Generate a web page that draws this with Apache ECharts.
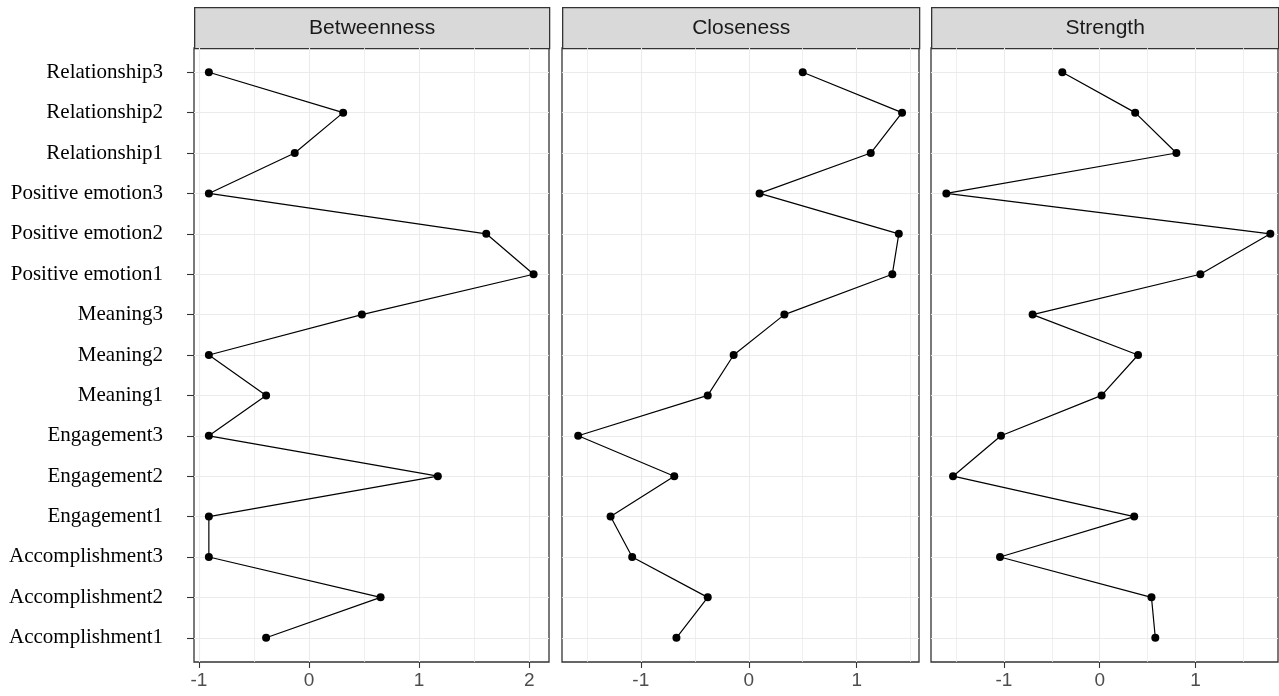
<!DOCTYPE html>
<html>
<head>
<meta charset="utf-8">
<script src="https://cdn.jsdelivr.net/npm/echarts@6/dist/echarts.min.js"></script>
<style>
  html, body { margin: 0; padding: 0; background: #fff; }
  #chart { width: 1279px; height: 696px; }
</style>
</head>
<body>
<div id="chart"></div>
<script>
// nodes, bottom to top
const nodeNames = [
  'Accomplishment1', 'Accomplishment2', 'Accomplishment3',
  'Engagement1', 'Engagement2', 'Engagement3',
  'Meaning1', 'Meaning2', 'Meaning3',
  'Positive emotion1', 'Positive emotion2', 'Positive emotion3',
  'Relationship1', 'Relationship2', 'Relationship3'
];
const betweenness = [-0.39, 0.65, -0.91, -0.91, 1.17, -0.91, -0.39, -0.91, 0.48, 2.04, 1.61, -0.91, -0.13, 0.31, -0.91];
const closeness = [-0.67, -0.38, -1.08, -1.28, -0.69, -1.58, -0.38, -0.14, 0.33, 1.33, 1.39, 0.10, 1.13, 1.42, 0.50];
const strength = [0.58, 0.54, -1.04, 0.36, -1.53, -1.03, 0.02, 0.40, -0.70, 1.05, 1.78, -1.60, 0.80, 0.37, -0.39];

const panelTitles = ['Betweenness', 'Closeness', 'Strength'];
const xTickLabels = [[-1, 0, 1, 2], [-1, 0, 1], [-1, 0, 1]];
const xMinorLines = [[-0.5, 0.5, 1.5], [-1.5, -0.5, 0.5, 1.5], [-1.5, -0.5, 0.5, 1.5]];

const chart = echarts.init(document.getElementById('chart'));

const panels = [
  { values: betweenness, min: -1.045, max: 2.18, left: 194, width: 355 },
  { values: closeness, min: -1.73, max: 1.577, left: 562, width: 357 },
  { values: strength, min: -1.76, max: 1.86, left: 931, width: 347 }
];

const plotTop = 48;
const plotHeight = 614;
const yIdx = nodeNames.map((_, i) => i);
const gridColor = '#EBEBEB';
const frameColor = '#333333';

const grids = [];
const xAxes = [];
const yAxes = [];
const series = [];
const graphics = [];

panels.forEach((p, i) => {
  grids.push({
    left: p.left, top: plotTop, width: p.width, height: plotHeight,
    show: true, backgroundColor: '#fff',
    borderColor: frameColor, borderWidth: 1.3
  });
  // major axis with labels
  xAxes.push({
    type: 'value', gridIndex: i, min: p.min, max: p.max, position: 'bottom',
    axisLine: { show: false, onZero: false },
    axisTick: { show: true, customValues: xTickLabels[i], length: 6, lineStyle: { color: frameColor, width: 1.1 } },
    axisLabel: { customValues: xTickLabels[i], color: '#4D4D4D', fontSize: 19, fontFamily: 'Liberation Sans, Arial', margin: 9 },
    splitLine: { show: true, lineStyle: { color: gridColor, width: 1.1 } }
  });
  // minor grid lines only
  xAxes.push({
    type: 'value', gridIndex: i, min: p.min, max: p.max, position: 'bottom',
    axisLine: { show: false, onZero: false },
    axisTick: { show: false, customValues: xMinorLines[i] },
    axisLabel: { show: false, customValues: xMinorLines[i] },
    splitLine: { show: true, lineStyle: { color: gridColor, width: 0.8 } }
  });
  yAxes.push({
    type: 'value', gridIndex: i, min: -0.6, max: 14.6, position: 'left',
    axisLine: { show: false, onZero: false },
    axisTick: { show: i === 0, customValues: yIdx, length: 7, lineStyle: { color: frameColor, width: 1.1 } },
    axisLabel: {
      show: i === 0, customValues: yIdx, margin: 31,
      formatter: v => nodeNames[Math.round(v)],
      color: '#000', fontSize: 21, fontFamily: 'Liberation Serif, Times New Roman'
    },
    splitLine: { show: true, lineStyle: { color: gridColor, width: 1.1 } }
  });
  series.push({
    type: 'line', xAxisIndex: i * 2, yAxisIndex: i,
    data: p.values.map((v, k) => [v, k]),
    symbol: 'circle', symbolSize: 8, showSymbol: true,
    lineStyle: { color: '#000', width: 1.2 },
    itemStyle: { color: '#000' },
    silent: true, animation: false, z: 5
  });
  graphics.push({
    type: 'rect', left: p.left, top: 7,
    shape: { width: p.width, height: 41 },
    style: { fill: '#D9D9D9', stroke: frameColor, lineWidth: 1.3 },
    textContent: {
      type: 'text',
      style: { text: panelTitles[i], fill: '#1A1A1A', fontSize: 21, fontFamily: 'Liberation Sans, Arial' }
    },
    textConfig: { position: 'inside' }
  });
});

chart.setOption({
  animation: false,
  backgroundColor: '#fff',
  grid: grids,
  xAxis: xAxes,
  yAxis: yAxes,
  series: series,
  graphic: graphics
});
</script>
</body>
</html>
